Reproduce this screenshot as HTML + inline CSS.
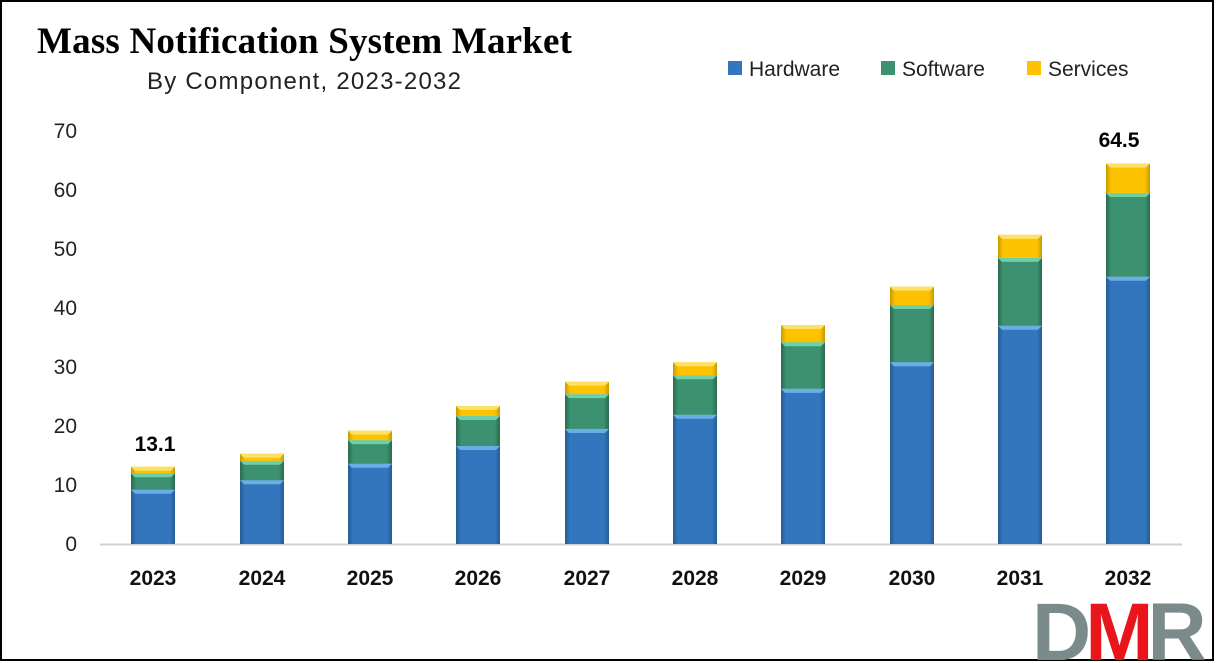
<!DOCTYPE html>
<html><head><meta charset="utf-8"><style>
html,body{margin:0;background:#fff;overflow:hidden;width:1216px;height:663px;}
svg{display:block;font-family:"Liberation Sans",sans-serif;}
</style></head><body>
<svg id="c" width="1216" height="663" viewBox="0 0 1216 663" xmlns="http://www.w3.org/2000/svg">
<defs>
<linearGradient id="gb" x1="0" x2="1"><stop offset="0" stop-color="#255d94"/><stop offset="0.12" stop-color="#3476bd"/><stop offset="0.88" stop-color="#3476bd"/><stop offset="1" stop-color="#255d94"/></linearGradient>
<linearGradient id="gg" x1="0" x2="1"><stop offset="0" stop-color="#2a6a4e"/><stop offset="0.12" stop-color="#3c9270"/><stop offset="0.88" stop-color="#3c9270"/><stop offset="1" stop-color="#2a6a4e"/></linearGradient>
<linearGradient id="gy" x1="0" x2="1"><stop offset="0" stop-color="#c79a00"/><stop offset="0.12" stop-color="#fdc300"/><stop offset="0.88" stop-color="#fdc300"/><stop offset="1" stop-color="#c79a00"/></linearGradient>
</defs>
<rect x="1" y="1" width="1212" height="659" fill="#fff" stroke="#000" stroke-width="2"/>
<text x="37" y="53" font-family="Liberation Serif,serif" font-weight="bold" font-size="37" textLength="535">Mass Notification System Market</text>
<text x="147" y="89" font-size="24" fill="#222" textLength="314">By Component, 2023-2032</text>
<rect x="728" y="61" width="14" height="14" fill="#3476bd"/><text x="749" y="76" font-size="21" fill="#222">Hardware</text>
<rect x="881" y="61" width="14" height="14" fill="#3c9270"/><text x="902" y="76" font-size="21" fill="#222">Software</text>
<rect x="1027" y="61" width="14" height="14" fill="#fdc300"/><text x="1048" y="76" font-size="21" fill="#222">Services</text>
<g id="yt" font-size="21" fill="#222" text-anchor="end"></g>
<line x1="100" y1="544.5" x2="1182" y2="544.5" stroke="#d0d0d0" stroke-width="2"/>
<g id="bars"></g>
<g id="xl" font-size="21" font-weight="bold" fill="#111" text-anchor="middle"></g>
<text x="155" y="451" font-size="21" font-weight="bold" text-anchor="middle">13.1</text>
<text x="1119" y="147" font-size="21" font-weight="bold" text-anchor="middle">64.5</text>
<svg x="1030" y="598" width="184" height="62" overflow="hidden">
<text x="2" y="62" font-size="82" font-weight="bold" fill="#7b8a8a" letter-spacing="-6">D<tspan fill="#e8151b">M</tspan>R</text>
</svg>
</svg>
<script>
const y0=544,s=5.9,w=44;
const xs=[153,262,370,478,587,695,803,912,1020,1128];
const d=[[9.2,12,13.1],[10.8,14.1,15.3],[13.6,17.6,19.2],[16.6,21.7,23.4],[19.5,25.4,27.5],[21.9,28.6,30.8],[26.3,34.2,37.1],[30.8,40.5,43.6],[37,48.5,52.4],[45.3,59.5,64.5]];
const NS="http://www.w3.org/2000/svg";
function el(p,t,a,txt){const e=document.createElementNS(NS,t);for(const k in a)e.setAttribute(k,a[k]);if(txt!=null)e.textContent=txt;p.appendChild(e);return e;}
const yt=document.getElementById('yt');
for(let i=0;i<=7;i++)el(yt,'text',{x:77,y:y0-i*10*s+7},i*10);
const b=document.getElementById('bars'),xl=document.getElementById('xl');
const fills=['url(#gb)','url(#gg)','url(#gy)'],hl=['#6aaee8','#6fd0a8','#ffe066'];
d.forEach((v,i)=>{let prev=0;const x=xs[i]-w/2;
v.forEach((t,j)=>{const top=y0-t*s,bot=y0-prev*s;
el(b,'rect',{x:x,y:top,width:w,height:bot-top,fill:fills[j]});
el(b,'polygon',{points:`${x},${top} ${x+w},${top} ${x+w-4},${top+4} ${x+4},${top+4}`,fill:hl[j]});
prev=t;});
el(xl,'text',{x:xs[i],y:585},2023+i);});
</script>
</body></html>
